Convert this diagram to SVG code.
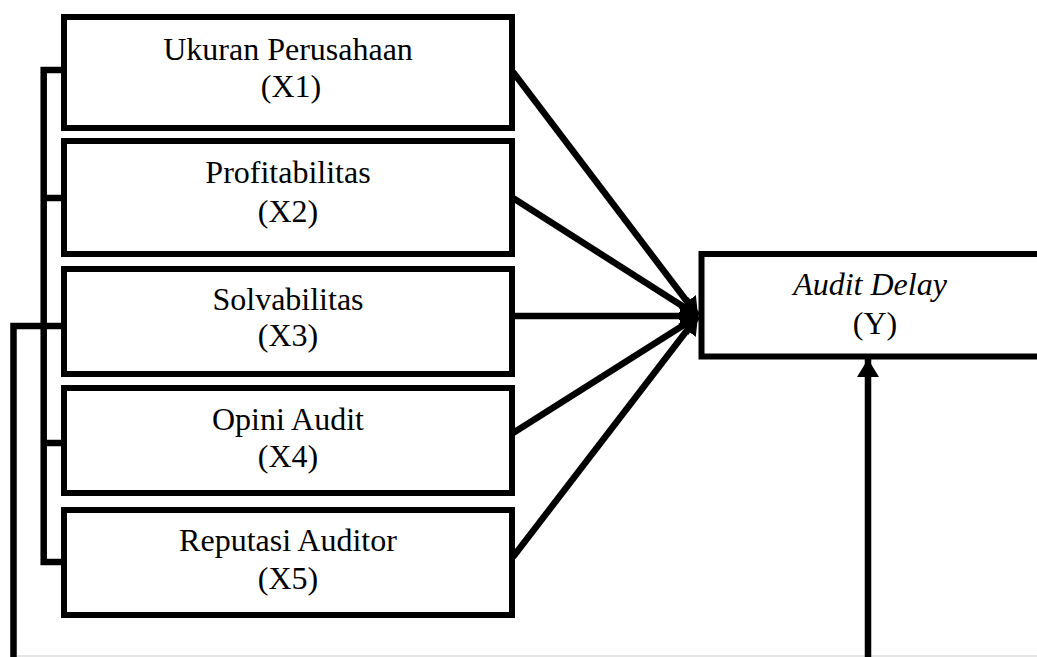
<svg xmlns="http://www.w3.org/2000/svg" width="1037" height="657" viewBox="0 0 1037 657">
<style>
.box{fill:#fff;stroke:#000;stroke-width:6}
.t{font-family:"Liberation Serif","Times New Roman",serif;font-size:32px;fill:#000;text-anchor:middle}
.i{font-style:italic}
.ln{fill:none;stroke:#000;stroke-width:6.5}
</style>
<defs>
<marker id="ah" markerUnits="userSpaceOnUse" markerWidth="20" markerHeight="22" refX="18" refY="11" orient="auto">
<path d="M0,0 L18,11 L0,22 Z" fill="#000"/>
</marker>
</defs>
<rect width="1037" height="657" fill="#fff"/>
<line x1="17" y1="656" x2="1037" y2="656" stroke="#dcdcdc" stroke-width="1.5"/>
<g id="connectors">
<path class="ln" d="M61 70 H43.7 V562 H61 M43.7 198 H61 M43.7 443 H61"/>
<path class="ln" d="M61 326 H13.5 V657"/>
<line class="ln" x1="513" y1="72" x2="698" y2="316" marker-end="url(#ah)"/>
<line class="ln" x1="513" y1="198" x2="698" y2="316" marker-end="url(#ah)"/>
<line class="ln" x1="513" y1="316" x2="698" y2="316" marker-end="url(#ah)"/>
<line class="ln" x1="513" y1="433" x2="698" y2="316" marker-end="url(#ah)"/>
<line class="ln" x1="513" y1="557" x2="698" y2="316" marker-end="url(#ah)"/>
<line class="ln" x1="868" y1="657" x2="868" y2="359" marker-end="url(#ah)"/>
</g>
<g id="x1">
<rect class="box" x="64" y="17" width="448" height="111"/>
<text class="t" x="288" y="60">Ukuran Perusahaan</text>
<text class="t" x="291" y="97">(X1)</text>
</g>
<g id="x2">
<rect class="box" x="64" y="141" width="448" height="113"/>
<text class="t" x="288" y="183">Profitabilitas</text>
<text class="t" x="288" y="222">(X2)</text>
</g>
<g id="x3">
<rect class="box" x="64" y="269" width="448" height="105"/>
<text class="t" x="288" y="310">Solvabilitas</text>
<text class="t" x="288" y="346">(X3)</text>
</g>
<g id="x4">
<rect class="box" x="64" y="388" width="448" height="105"/>
<text class="t" x="288" y="430">Opini Audit</text>
<text class="t" x="288" y="467">(X4)</text>
</g>
<g id="x5">
<rect class="box" x="64" y="510" width="448" height="105"/>
<text class="t" x="288" y="551">Reputasi Auditor</text>
<text class="t" x="288" y="589">(X5)</text>
</g>
<g id="y">
<rect class="box" x="701.5" y="254" width="400" height="102.5"/>
<text class="t i" x="870" y="295">Audit Delay</text>
<text class="t" x="875" y="334">(Y)</text>
</g>
</svg>
